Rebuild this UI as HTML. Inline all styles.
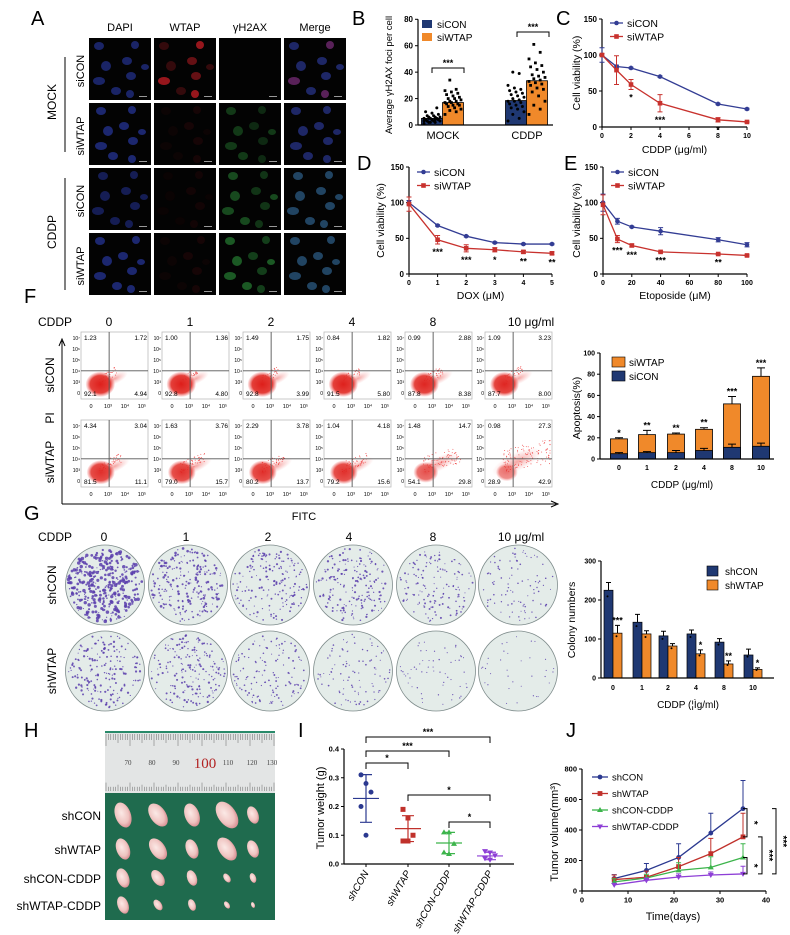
<!DOCTYPE html>
<html><head><meta charset="utf-8"><style>
html,body{margin:0;padding:0;background:#fff;}
svg{display:block;font-family:"Liberation Sans",Arial,sans-serif;}
</style></head><body>
<svg id="fig" width="790" height="935" viewBox="0 0 790 935" xmlns="http://www.w3.org/2000/svg">
<defs>
<radialGradient id="blob" cx="50%" cy="50%" r="50%"><stop offset="0" stop-color="#dd1a16" stop-opacity="1"/><stop offset="0.7" stop-color="#e2302a" stop-opacity="0.95"/><stop offset="1" stop-color="#f06060" stop-opacity="0.1"/></radialGradient>
<radialGradient id="blob2" cx="50%" cy="50%" r="50%"><stop offset="0" stop-color="#e83a34" stop-opacity="0.45"/><stop offset="1" stop-color="#f07070" stop-opacity="0"/></radialGradient>
<radialGradient id="tumor" cx="45%" cy="40%" r="60%"><stop offset="0" stop-color="#fbe9e6"/><stop offset="0.7" stop-color="#efc3c0"/><stop offset="1" stop-color="#d98f93"/></radialGradient>
</defs>
<g font-size="20" fill="#000">
<text x="31" y="25">A</text>
<text x="352" y="25">B</text>
<text x="556" y="25">C</text>
<text x="357" y="170">D</text>
<text x="564" y="170">E</text>
<text x="24" y="303">F</text>
<text x="24" y="520">G</text>
<text x="24" y="737">H</text>
<text x="298" y="737">I</text>
<text x="566" y="737">J</text>
</g>
<g id="panelA"></g>
<g id="panelB"></g>
<g id="panelC"></g>
<g id="panelD"></g>
<g id="panelE"></g>
<g id="panelF"></g>
<g id="panelF2"></g>
<g id="panelG"></g>
<g id="panelG2"></g>
<g id="panelH"></g>
<g id="panelI"></g>
<g id="panelJ"></g>
</svg>
<script>
// ---------- DATA ----------
const bGroups = ['MOCK','CDDP'];
const bSeries = ['siCON','siWTAP'];
const bMeans = [5, 17, 18.5, 33.5];
const bDots0 = [1,2,2,3,3,3,4,4,4,5,5,5,6,6,6,7,7,8,9,10,13,2,3,4,5];
const bDots1 = [8,10,11,12,13,14,15,15,16,16,17,17,18,18,19,20,20,21,22,23,24,25,26,27,34];
const bDots2 = [3,5,8,10,12,13,14,15,16,17,18,18,19,20,21,22,23,24,25,26,27,28,30,39,40];
const bDots3 = [8,12,15,18,22,25,27,28,30,31,32,33,34,35,36,37,38,40,42,44,45,47,50,55,61];
const bYTicks = [0,20,40,60,80];

const cX = [0,1,2,4,8,10];
const cCon = [100,84,82,70,32,25];
const cWtap = [100,79,59,33,10,7];
const cConErr = [10,2,1,1,1,1];
const cWtapErr = [2,20,7,12,3,1];
const cStars = ['','','*','***','*',''];
const cXTicks = [0,2,4,6,8,10];

const dX = [0,1,2,3,4,5];
const dCon = [100,68,53,44,42,42];
const dWtap = [98,48,36,34,31,29];
const dConErr = [3,1,1,1,1,1];
const dWtapErr = [10,6,5,3,2,2];
const dStars = ['','***','***','*','**','**'];

const eX = [0,10,20,40,80,100];
const eCon = [100,74,66,60,48,41];
const eWtap = [97,49,40,31,28,26];
const eConErr = [12,4,1,5,3,3];
const eWtapErr = [14,5,2,1,1,1];
const eStars = ['','***','***','***','**',''];
const eXTicks = [0,20,40,60,80,100];
const vYTicks = [0,50,100,150];

const fDoses = ['0','1','2','4','8','10'];
const fConUL = ['1.23','1.00','1.49','0.84','0.99','1.09'];
const fConUR = ['1.72','1.36','1.75','1.82','2.88','3.23'];
const fConLL = ['92.1','92.8','92.8','91.5','87.8','87.7'];
const fConLR = ['4.94','4.80','3.99','5.80','8.38','8.00'];
const fWtUL = ['4.34','1.63','2.29','1.04','1.48','0.98'];
const fWtUR = ['3.04','3.76','3.78','4.18','14.7','27.3'];
const fWtLL = ['81.5','79.0','80.2','79.2','54.1','28.9'];
const fWtLR = ['11.1','15.7','13.7','15.6','29.8','42.9'];

const apoCats = ['0','1','2','4','8','10'];
const apoTotal = [19,23,23.5,28,52,78];
const apoTotalErr = [1,4,1,1.5,7,8];
const apoCon = [5,6,6,8,11,12];
const apoConErr = [1,1,2,2,3,3];
const apoStars = ['*','**','**','**','***','***'];
const apoYTicks = [0,20,40,60,80,100];

const colCats = ['0','1','2','4','8','10'];
const colCon = [225,143,108,113,92,59];
const colConErr = [20,20,12,10,9,15];
const colWtap = [115,113,82,62,36,22];
const colWtapErr = [20,8,6,10,8,4];
const colStars = ['***','','','*','**','*'];
const colYTicks = [0,100,200,300];

const tGroups = ['shCON','shWTAP','shCON-CDDP','shWTAP-CDDP'];
const tW0 = [0.31,0.28,0.25,0.20,0.10];
const tW1 = [0.19,0.16,0.10,0.08,0.08];
const tW2 = [0.11,0.11,0.07,0.04,0.035];
const tW3 = [0.045,0.04,0.03,0.02,0.015];
const tMean = [0.228,0.123,0.073,0.028];
const tSd = [0.083,0.045,0.037,0.013];
const tYTicks = [0.0,0.1,0.2,0.3,0.4];

const jDays = [7,14,21,28,35];
const jCon = [82,135,220,380,540];
const jConErr = [25,45,90,130,185];
const jWtap = [75,90,160,245,355];
const jWtapErr = [30,40,60,100,155];
const jConC = [60,85,135,155,220];
const jConCErr = [20,25,50,70,90];
const jWtapC = [40,70,92,105,112];
const jWtapCErr = [10,15,20,20,50];
const jXTicks = [0,10,20,30,40];
const jYTicks = [0,200,400,600,800];

// ---------- HELPERS ----------
const NS='http://www.w3.org/2000/svg';
function mk(tag,attrs,parent){const e=document.createElementNS(NS,tag);for(const k in attrs)e.setAttribute(k,attrs[k]);parent.appendChild(e);return e;}
function tx(parent,x,y,s,attrs){const t=mk('text',Object.assign({x:x,y:y},attrs||{}),parent);t.textContent=s;return t;}
function lin(d0,d1,r0,r1){return v=>r0+(v-d0)/(d1-d0)*(r1-r0);}
function hash(n){const s=Math.sin(n*12.9898+78.233)*43758.5453;return s-Math.floor(s);}
function yAxis(g,x,sy,ticks,fs,fmt){
  const l=mk('line',{x1:x,x2:x,y1:sy(ticks[0]),y2:sy(ticks[ticks.length-1]),stroke:'#000','stroke-width':1.2},g);
  
  
  ticks.forEach(v=>{
    const tk=mk('line',{x1:x-3,x2:x,y1:sy(v),y2:sy(v),stroke:'#000','stroke-width':1},g);
    
    
    const t=tx(g,x-5,sy(v)+fs*0.35,fmt?fmt(v):String(v),{'font-size':fs,'text-anchor':'end','font-weight':'bold'});
    
    
  });
}
function xAxis(g,y,sx,ticks,fs,x0,x1){
  const l=mk('line',{x1:x0,x2:x1,y1:y,y2:y,stroke:'#000','stroke-width':1.2},g);
  
  
  ticks.forEach(v=>{
    const tk=mk('line',{x1:sx(v),x2:sx(v),y1:y,y2:y+3,stroke:'#000','stroke-width':1},g);
    
    
    const t=tx(g,sx(v),y+fs+4,String(v),{'font-size':fs,'text-anchor':'middle','font-weight':'bold'});
    
    
  });
}
function rotText(g,x,y,s,fs,name){
  const t=tx(g,0,0,s,{'font-size':fs,'text-anchor':'middle',transform:`translate(${x},${y}) rotate(-90)`});
  
  
  return t;
}

// ---------- PANEL A ----------
(function(){
  const g=document.getElementById('panelA');
  const heads=['DAPI','WTAP','γH2AX','Merge'];
  const colX=[89,154,219,284];
  const rowY=[38,103,168,233];
  const nuclei=[[12,10,5,4],[45,7,4,4],[18,26,5,5],[36,24,5,4],[10,42,6,4],[44,40,5,4],[26,53,5,4],[42,54,4,4],[54,30,4,3]];
  heads.forEach((h,i)=>{const t=tx(g,colX[i]+31,31,h,{'font-size':11,'text-anchor':'middle'});});
  const inten=[[0.55,0.5,0.0],[0.6,0.1,0.35],[0.45,0.08,0.45],[0.6,0.1,0.55]];
  rowY.forEach((ry,r)=>{
    colX.forEach((cx,c)=>{
      const rc=mk('rect',{x:cx,y:ry,width:62,height:62,fill:'#030303'},g);
      
      
      nuclei.forEach((n,k)=>{
        const ox=(r*7+k*3)%5-2, oy=(r*5+k*2)%5-2;
        let col, op;
        if(c===0){col='#2d3fb8';op=inten[r][0];}
        else if(c===1){col='#c81e26';op=(r===0&&k%3===1)?0.75:inten[r][1]*(k%2?1:0.5);}
        else if(c===2){col='#30a040';op=inten[r][2]*((k%2)?0.7:1);}
        else {col=(r===0&&k%3===1)?'#a03aa0':(r>=2?'#3a7ab0':'#3446b8');op=0.55;}
        if(op<=0) return;
        const e=mk('ellipse',{cx:cx+n[0]+ox,cy:ry+n[1]+oy,rx:n[2],ry:n[3],fill:col,opacity:op},g);
        
        
      });
      const sb=mk('rect',{x:cx+50,y:ry+58,width:8,height:1,fill:'#999'},g);
      
      
    });
  });
  const rl=['siCON','siWTAP','siCON','siWTAP'];
  rl.forEach((s,i)=>rotText(g,84,rowY[i]+33,s,11,'row-label'));
  rotText(g,56,102,'MOCK',12,'group-label-mock');
  rotText(g,56,232,'CDDP',12,'group-label-cddp');
  const l1=mk('line',{x1:65,x2:65,y1:57,y2:152,stroke:'#000'},g);
  
  
  const l2=mk('line',{x1:65,x2:65,y1:178,y2:290,stroke:'#000'},g);
  
  
})();

// ---------- PANEL B ----------
(function(){
  const g=document.getElementById('panelB');
  const sy=lin(0,80,125,19.3);
  const blue='#1f3872', orange='#f0892a';
  const barX=[421.5,442.5,505.5,526.5];
  const dots=[bDots0,bDots1,bDots2,bDots3];
  bMeans.forEach((m,i)=>{
    const b=mk('rect',{x:barX[i],y:sy(m),width:21,height:sy(0)-sy(m),fill:i%2?orange:blue,stroke:'#000','stroke-width':0.8},g);
    
    
    dots[i].forEach((v,k)=>{
      const jx=((k*7)%11-5)*1.6;
      const d=i%2?mk('rect',{x:barX[i]+10.5+jx-1.4,y:sy(v)-1.4,width:2.8,height:2.8,fill:'#000'},g):mk('circle',{cx:barX[i]+10.5+jx,cy:sy(v),r:1.5,fill:'#000'},g);
      
      
    });
  });
  yAxis(g,418,sy,bYTicks,8);
  const xl=mk('line',{x1:418,x2:553,y1:125,y2:125,stroke:'#000','stroke-width':1.2},g);
  
  
  bGroups.forEach((s,i)=>{const t=tx(g,[443,527][i],139,s,{'font-size':11,'text-anchor':'middle'});});
  [[432,464,68],[517,549,32]].forEach(b=>{
    const p=mk('path',{d:`M${b[0]},${b[2]+5}V${b[2]}H${b[1]}V${b[2]+5}`,fill:'none',stroke:'#000'},g);
    
    
    const t=tx(g,(b[0]+b[1])/2,b[2]-2,'***',{'font-size':9,'text-anchor':'middle','font-weight':'bold'});
    
    
  });
  bSeries.forEach((s,i)=>{
    const r=mk('rect',{x:422,y:20+i*13,width:10,height:8,fill:i?orange:blue},g);
    
    
    const t=tx(g,437,28+i*13,s,{'font-size':10});
    
    
  });
  rotText(g,392,75,'Average γH2AX foci per cell',9.5,'y-axis-title');
})();

// ---------- LINE PANELS C, D, E ----------
function linePanel(g,x0,x1,y0,y150,xs,con,wt,conE,wtE,stars,xt,xdom,xtitle,xtitleY,ylabX,legY){
  const sx=lin(xdom[0],xdom[1],x0,x1), sy=lin(0,150,y0,y150);
  const navy='#333d94', red='#c8322e';
  yAxis(g,x0,sy,vYTicks,8);
  xAxis(g,y0,sx,xt,7,x0,x1);
  [[con,conE,navy,'siCON'],[wt,wtE,red,'siWTAP']].forEach(s=>{
    s[1].forEach((e,i)=>{
      const p=mk('path',{d:`M${sx(xs[i])},${sy(s[0][i]-e)}V${sy(s[0][i]+e)}M${sx(xs[i])-2.5},${sy(s[0][i]+e)}h5M${sx(xs[i])-2.5},${sy(s[0][i]-e)}h5`,stroke:s[2],'stroke-width':1,fill:'none'},g);
      
      
    });
    const pl=mk('polyline',{points:xs.map((x,i)=>sx(x)+','+sy(s[0][i])).join(' '),fill:'none',stroke:s[2],'stroke-width':1.3},g);
    
    
    xs.forEach((x,i)=>{
      const m=s[3]==='siCON'?mk('circle',{cx:sx(x),cy:sy(s[0][i]),r:2.3,fill:s[2]},g):mk('rect',{x:sx(x)-2.3,y:sy(s[0][i])-2.3,width:4.6,height:4.6,fill:s[2]},g);
      
      
    });
  });
  stars.forEach((st,i)=>{ if(!st)return;
    const t=tx(g,sx(xs[i]),sy(wt[i]-wtE[i])+11,st,{'font-size':9,'text-anchor':'middle','font-weight':'bold'});
    
    
  });
  [['siCON',navy,0],['siWTAP',red,1]].forEach(l=>{
    const ln=mk('line',{x1:x0+8,x2:x0+21,y1:legY+l[2]*13.5,y2:legY+l[2]*13.5,stroke:l[1],'stroke-width':1.3},g);
    
    
    const mkr=l[2]?mk('rect',{x:x0+12.2,y:legY+13.5-2.3,width:4.6,height:4.6,fill:l[1]},g):mk('circle',{cx:x0+14.5,cy:legY,r:2.3,fill:l[1]},g);
    
    
    const t=tx(g,x0+25,legY+4+l[2]*13.5,l[0],{'font-size':10.5});
    
    
  });
  const xt2=tx(g,(x0+x1)/2,xtitleY,xtitle,{'font-size':10.5,'text-anchor':'middle'});
  
  
  rotText(g,ylabX,(y0+y150)/2,'Cell viability (%)',10.5,'y-axis-title');
}
linePanel(document.getElementById('panelC'),602,747,127,19,cX,cCon,cWtap,cConErr,cWtapErr,cStars,cXTicks,[0,10],'CDDP (μg/ml)',153,580,23);
linePanel(document.getElementById('panelD'),409,552,274,167,dX,dCon,dWtap,dConErr,dWtapErr,dStars,dX,[0,5],'DOX (μM)',299,384,172);
linePanel(document.getElementById('panelE'),603,747,274,167,eX,eCon,eWtap,eConErr,eWtapErr,eStars,eXTicks,[0,100],'Etoposide (μM)',299,580,172);

// ---------- PANEL F FLOW ----------
(function(){
  const g=document.getElementById('panelF');
  const h=tx(g,38,326,'CDDP',{'font-size':12});
  
  
  const colX=[81,162,243,324,405,485];
  fDoses.forEach((d,i)=>{
    const t=tx(g,i===5?colX[i]+46:colX[i]+28,326,i===5?'10 μg/ml':d,{'font-size':12,'text-anchor':'middle'});
    
    
  });
  const rows=[[332,fConUL,fConUR,fConLL,fConLR,'siCON'],[420,fWtUL,fWtUR,fWtLL,fWtLR,'siWTAP']];
  rows.forEach((row,r)=>{
    colX.forEach((x,i)=>{
      const y=row[0], w=67, hh=67;
      const box=mk('rect',{x:x,y:y,width:w,height:hh,fill:'#fff',stroke:'#bbb','stroke-width':0.8},g);
      
      
      const qx=x+w*0.42, qy=y+hh*0.58;
      const late=parseFloat(row[2][i]), early=parseFloat(row[4][i]), live=parseFloat(row[3][i]);
      const b2=mk('ellipse',{cx:qx+6,cy:qy+8-late*0.2,rx:12+early*0.35,ry:5+late*0.15,fill:'url(#blob2)',transform:`rotate(-25 ${qx+6} ${qy+8})`},g);
      
      
      // scattered events
      const nd=Math.round(25+early*1.2+late*1.5);
      for(let k=0;k<nd;k++){
        const u=hash(k+i*97+r*531), v=hash(k*3.1+i*17+r*71);
        const dx=qx-10+u*(14+early*0.6+late*0.4), dy=qy+14-v*(8+late*0.6)-u*10;
        const d=mk('circle',{cx:Math.min(x+w-2,dx),cy:Math.max(y+3,Math.min(y+hh-3,dy)),r:0.45,fill:'#e33'},g);
        
        
      }
      const b=mk('ellipse',{cx:x+19+(100-live)*0.04,cy:y+hh*0.78,rx:9+live*0.06,ry:7+live*0.06,fill:'url(#blob)',opacity:0.4+live/160},g);
      
      
      const v=mk('line',{x1:qx,x2:qx,y1:y,y2:y+hh,stroke:'#555','stroke-width':0.9},g);
      
      
      const hl=mk('line',{x1:x,x2:x+w,y1:qy,y2:qy,stroke:'#555','stroke-width':0.9},g);
      
      
      const fs=6.5;
      [[row[1][i],x+3,y+8,'start'],[row[2][i],x+w-1,y+8,'end'],[row[3][i],x+3,y+hh-3,'start'],[row[4][i],x+w-1,y+hh-3,'end']].forEach(q=>{
        const t=tx(g,q[1],q[2],q[0],{'font-size':fs,'text-anchor':q[3]});
        
        
      });
      ['10⁷','10⁶','10⁵','10⁴','10³','0'].forEach((s,k)=>{
        const t=tx(g,x-1,y+8+k*11,s,{'font-size':5,'text-anchor':'end'});
        
        
      });
      ['0','10³','10⁴','10⁵'].forEach((s,k)=>{
        const t=tx(g,x+10+k*17,y+hh+9,s,{'font-size':5.5,'text-anchor':'middle'});
        
        
      });
    });
  });
  const ax=mk('path',{d:'M62,504V341M59,346L62,339L65,346M62,504H556M551,501L558,504L551,507',fill:'none',stroke:'#000','stroke-width':1},g);
  
  
  const fi=tx(g,304,520,'FITC',{'font-size':11,'text-anchor':'middle'});
  
  
  rotText(g,54,418,'PI',12,'y-axis-title-pi');
  rotText(g,54,375,'siCON',12,'row-label-sicon');
  rotText(g,54,462,'siWTAP',12,'row-label-siwtap');
})();

// ---------- PANEL F APOPTOSIS BARS ----------
(function(){
  const g=document.getElementById('panelF2');
  const sy=lin(0,100,459,353);
  const cx=[619,647,676,704,732,761];
  const orange='#f0892a', navy='#1f3872';
  apoCats.forEach((c,i)=>{
    const eb=mk('path',{d:`M${cx[i]},${sy(apoTotal[i])}V${sy(apoTotal[i]+apoTotalErr[i])}M${cx[i]-4},${sy(apoTotal[i]+apoTotalErr[i])}h8`,stroke:'#000',fill:'none'},g);
    
    
    const r=mk('rect',{x:cx[i]-8.5,y:sy(apoTotal[i]),width:17,height:sy(0)-sy(apoTotal[i]),fill:orange,stroke:'#000','stroke-width':0.8},g);
    
    
    const b=mk('rect',{x:cx[i]-8.5,y:sy(apoCon[i]),width:17,height:sy(0)-sy(apoCon[i]),fill:navy,stroke:'#000','stroke-width':0.8},g);
    
    
    const eb2=mk('path',{d:`M${cx[i]},${sy(apoCon[i])}V${sy(apoCon[i]+apoConErr[i])}M${cx[i]-4},${sy(apoCon[i]+apoConErr[i])}h8`,stroke:'#000',fill:'none'},g);
    
    
    const st=tx(g,cx[i],sy(apoTotal[i]+apoTotalErr[i])-2,apoStars[i],{'font-size':9,'text-anchor':'middle','font-weight':'bold'});
    
    
    const xl=tx(g,cx[i],470,c,{'font-size':7,'text-anchor':'middle','font-weight':'bold'});
    
    
  });
  yAxis(g,600,sy,apoYTicks,7);
  const xl=mk('line',{x1:600,x2:774,y1:459,y2:459,stroke:'#000','stroke-width':1.2},g);
  
  
  [['siWTAP',orange],['siCON',navy]].forEach((l,k)=>{
    const r=mk('rect',{x:612,y:357+k*14,width:13,height:10,fill:l[1],stroke:'#000','stroke-width':0.6},g);
    
    
    const t=tx(g,629,366+k*14,l[0],{'font-size':10});
    
    
  });
  const xt=tx(g,682,488,'CDDP (μg/ml)',{'font-size':10,'text-anchor':'middle'});
  
  
  rotText(g,580,408,'Apoptosis(%)',10.5,'y-axis-title');
})();

// ---------- PANEL G PLATES ----------
(function(){
  const g=document.getElementById('panelG');
  const h=tx(g,38,541,'CDDP',{'font-size':12});
  
  
  const cxs=[105,188,270,353,436,518];
  const heads=['0','1','2','4','8','10 μg/ml'];
  const hx=[104,186,268,349,433,521];
  heads.forEach((s,i)=>{const t=tx(g,hx[i],541,s,{'font-size':12,'text-anchor':'middle'});});
  [[585,colCon,'shCON',0],[671,colWtap,'shWTAP',1]].forEach(row=>{
    row[1].forEach((n,i)=>{
      const e=mk('ellipse',{cx:cxs[i],cy:row[0],rx:39.5,ry:40,fill:'#e4ece9',stroke:'#7f8c8c','stroke-width':0.8},g);
      
      
      const cnt=Math.round(n*1.6);
      const big=n/225;
      for(let k=0;k<cnt;k++){
        const a=hash(k+i*1000+row[3]*5000)*6.2832;
        const rr=37*Math.sqrt(hash(k*1.7+i*333+row[3]*777+0.5));
        const d=mk('circle',{cx:cxs[i]+rr*Math.cos(a),cy:row[0]+rr*Math.sin(a),r:0.5+hash(k*2.3+i)*1.3*big,fill:'#5a3ead',opacity:0.85},g);
        
        
      }
    });
    rotText(g,56,row[0],row[2],12,'row-label-'+row[2]);
  });
})();

// ---------- PANEL G COLONY BARS ----------
(function(){
  const g=document.getElementById('panelG2');
  const sy=lin(0,300,678,561);
  const cx=[613,642,668,696,724,753];
  const navy='#1f3872', orange='#f0892a';
  colCats.forEach((c,i)=>{
    [[colCon,colConErr,navy,-4.5,'shCON'],[colWtap,colWtapErr,orange,4.5,'shWTAP']].forEach(s=>{
      const x=cx[i]+s[3], v=s[0][i], e=s[1][i];
      const eb=mk('path',{d:`M${x},${sy(v)}V${sy(v+e)}M${x-2.5},${sy(v+e)}h5`,stroke:'#000',fill:'none'},g);
      
      
      const r=mk('rect',{x:x-4.5,y:sy(v),width:9,height:sy(0)-sy(v),fill:s[2],stroke:'#000','stroke-width':0.7},g);
      
      
      const d=mk('circle',{cx:x-1,cy:sy(v*0.93),r:1,fill:'#000'},g);
      
      
    });
    if(colStars[i]){
      const st=tx(g,cx[i]+4.5,sy(colWtap[i]+colWtapErr[i])-2,colStars[i],{'font-size':9,'text-anchor':'middle','font-weight':'bold'});
      
      
    }
    const xl=tx(g,cx[i],690,c,{'font-size':7,'text-anchor':'middle','font-weight':'bold'});
    
    
  });
  yAxis(g,601,sy,colYTicks,7);
  const xl=mk('line',{x1:601,x2:774,y1:678,y2:678,stroke:'#000','stroke-width':1.2},g);
  
  
  [['shCON',navy],['shWTAP',orange]].forEach((l,k)=>{
    const r=mk('rect',{x:707,y:566+k*14,width:11,height:10,fill:l[1],stroke:'#000','stroke-width':0.6},g);
    
    
    const t=tx(g,725,575+k*14,l[0],{'font-size':10});
    
    
  });
  const xt=tx(g,688,708,'CDDP (¦Ìg/ml)',{'font-size':10,'text-anchor':'middle'});
  
  
  rotText(g,575,620,'Colony numbers',10.5,'y-axis-title');
})();

// ---------- PANEL H PHOTO ----------
(function(){
  const g=document.getElementById('panelH');
  const r1=mk('rect',{x:105,y:731,width:170,height:62,fill:'#e3e5e5'},g);
  
  
  const r0=mk('rect',{x:105,y:731,width:170,height:2,fill:'#2a8a6a'},g);
  
  
  for(let k=0;k<=70;k++){
    const x=106+k*2.4, L=(k%10===0)?12:(k%5===0?9:6);
    const t=mk('line',{x1:x,x2:x,y1:734,y2:734+L,stroke:'#666','stroke-width':0.5},g);
    
    
    const t2=mk('line',{x1:x,x2:x,y1:791-L*0.7,y2:791,stroke:'#666','stroke-width':0.5},g);
    
    
  }
  const ruler=['70','80','90','100','110','120','130'];
  const rx=[128,152,176,205,228,252,272];
  ruler.forEach((s,i)=>{
    const t=tx(g,rx[i],s==='100'?768:765,s,{'font-size':s==='100'?15:7,'text-anchor':'middle',fill:s==='100'?'#b22222':'#444','font-family':'Liberation Serif, serif'});
    
    
  });
  const gr=mk('rect',{x:105,y:793,width:170,height:127,fill:'#1f6b4e'},g);
  
  
  const rowsY=[815,849,878,905];
  const tx5=[123,158,192,227,253];
  const sizes=[[13,13,12,15,9],[11,12,10,13,9],[10,9,8,5,5],[9,6,6,4,3]];
  const names=['shCON','shWTAP','shCON-CDDP','shWTAP-CDDP'];
  rowsY.forEach((y,r)=>{
    tx5.forEach((x,c)=>{
      const s=sizes[r][c];
      const e=mk('ellipse',{cx:x,cy:y,rx:s*0.6,ry:s,fill:'url(#tumor)',transform:`rotate(${(c%2?-35:-20)} ${x} ${y})`},g);
      
      
    });
    const t=tx(g,101,y+5,names[r],{'font-size':12,'text-anchor':'end'});
    
    
  });
})();

// ---------- PANEL I ----------
(function(){
  const g=document.getElementById('panelI');
  const sy=lin(0,0.4,864,749);
  const gx=[366,408,449,490];
  const cols=['#2b3990','#c0312b','#3cb44b','#8e3fd6'];
  const pts=[tW0,tW1,tW2,tW3];
  yAxis(g,344,sy,tYTicks,7.5,v=>v.toFixed(1));
  const xl=mk('line',{x1:344,x2:514,y1:864,y2:864,stroke:'#000','stroke-width':1.2},g);
  
  
  tGroups.forEach((n,i)=>{
    const x=gx[i];
    const tk=mk('line',{x1:x,x2:x,y1:864,y2:867,stroke:'#000'},g);
    
    
    const sd=mk('path',{d:`M${x},${sy(tMean[i]-tSd[i])}V${sy(tMean[i]+tSd[i])}M${x-6},${sy(tMean[i]+tSd[i])}h12M${x-6},${sy(tMean[i]-tSd[i])}h12M${x-13},${sy(tMean[i])}h26`,stroke:cols[i],'stroke-width':1.2,fill:'none'},g);
    
    
    pts[i].forEach((v,k)=>{
      const px=x+((k%3)-1)*5;
      let m;
      if(i===0) m=mk('circle',{cx:px,cy:sy(v),r:2.5,fill:cols[i]},g);
      else if(i===1) m=mk('rect',{x:px-2.5,y:sy(v)-2.5,width:5,height:5,fill:cols[i]},g);
      else if(i===2) m=mk('path',{d:`M${px},${sy(v)-3}l3,5h-6z`,fill:cols[i]},g);
      else m=mk('path',{d:`M${px},${sy(v)+3}l3,-5h-6z`,fill:cols[i]},g);
      
      
    });
    const t=tx(g,0,0,n,{'font-size':10,'text-anchor':'end','font-style':'italic',transform:`translate(${x+3},${873}) rotate(-60)`});
    
    
  });
  const br=[[0,3,737,'***'],[0,2,751,'***'],[0,1,763,'*'],[1,3,795,'*'],[2,3,822,'*']];
  br.forEach(b=>{
    const p=mk('path',{d:`M${gx[b[0]]},${b[2]+6}V${b[2]}H${gx[b[1]]}V${b[2]+6}`,fill:'none',stroke:'#000'},g);
    
    
    const t=tx(g,(gx[b[0]]+gx[b[1]])/2,b[2]-2,b[3],{'font-size':9,'text-anchor':'middle','font-weight':'bold'});
    
    
  });
  rotText(g,324,808,'Tumor weight (g)',11,'y-axis-title');
})();

// ---------- PANEL J ----------
(function(){
  const g=document.getElementById('panelJ');
  const sx=lin(0,40,582,766), sy=lin(0,800,891,769);
  yAxis(g,582,sy,jYTicks,7.5);
  xAxis(g,891,sx,jXTicks,7.5,582,766);
  const ser=[[jCon,jConErr,'#2b3990','shCON','c'],[jWtap,jWtapErr,'#c0312b','shWTAP','s'],[jConC,jConCErr,'#3cb44b','shCON-CDDP','t'],[jWtapC,jWtapCErr,'#8e3fd6','shWTAP-CDDP','v']];
  function marker(type,x,y,c){
    if(type==='c') return mk('circle',{cx:x,cy:y,r:2.4,fill:c},g);
    if(type==='s') return mk('rect',{x:x-2.4,y:y-2.4,width:4.8,height:4.8,fill:c},g);
    if(type==='t') return mk('path',{d:`M${x},${y-3}l3,5h-6z`,fill:c},g);
    return mk('path',{d:`M${x},${y+3}l3,-5h-6z`,fill:c},g);
  }
  ser.forEach((s,si)=>{
    jDays.forEach((d,i)=>{
      const e=mk('path',{d:`M${sx(d)},${sy(s[0][i])}V${sy(s[0][i]+s[1][i])}M${sx(d)-2.5},${sy(s[0][i]+s[1][i])}h5`,stroke:s[2],fill:'none'},g);
      
      
    });
    const pl=mk('polyline',{points:jDays.map((d,i)=>sx(d)+','+sy(s[0][i])).join(' '),fill:'none',stroke:s[2],'stroke-width':1.3},g);
    
    
    jDays.forEach((d,i)=>{
      const m=marker(s[4],sx(d),sy(s[0][i]),s[2]);
      
      
    });
    const ly=777+si*16.5;
    const ll=mk('line',{x1:592,x2:608,y1:ly,y2:ly,stroke:s[2],'stroke-width':1.3},g);
    
    
    const lm=marker(s[4],600,ly,s[2]);
    
    
    const lt=tx(g,612,ly+3.5,s[3],{'font-size':9.5});
    
    
  });
  const last=jDays.length-1;
  const brs=[[jCon[last],jWtap[last],747,'*'],[jConC[last],jWtapC[last],747,'*'],[jWtap[last],jWtapC[last],762,'***'],[jCon[last],jWtapC[last],776,'***']];
  brs.forEach(b=>{
    const p=mk('path',{d:`M${b[2]-4},${sy(b[0])}H${b[2]}V${sy(b[1])}H${b[2]-4}`,fill:'none',stroke:'#000'},g);
    
    
    const t=tx(g,0,0,b[3],{'font-size':10,'text-anchor':'middle','font-weight':'bold',transform:`translate(${b[2]+4},${(sy(b[0])+sy(b[1]))/2}) rotate(90)`});
    
    
  });
  const xt=tx(g,673,920,'Time(days)',{'font-size':11,'text-anchor':'middle'});
  
  
  rotText(g,558,832,'Tumor volume(mm³)',11,'y-axis-title');
})();
</script>
</body></html>
